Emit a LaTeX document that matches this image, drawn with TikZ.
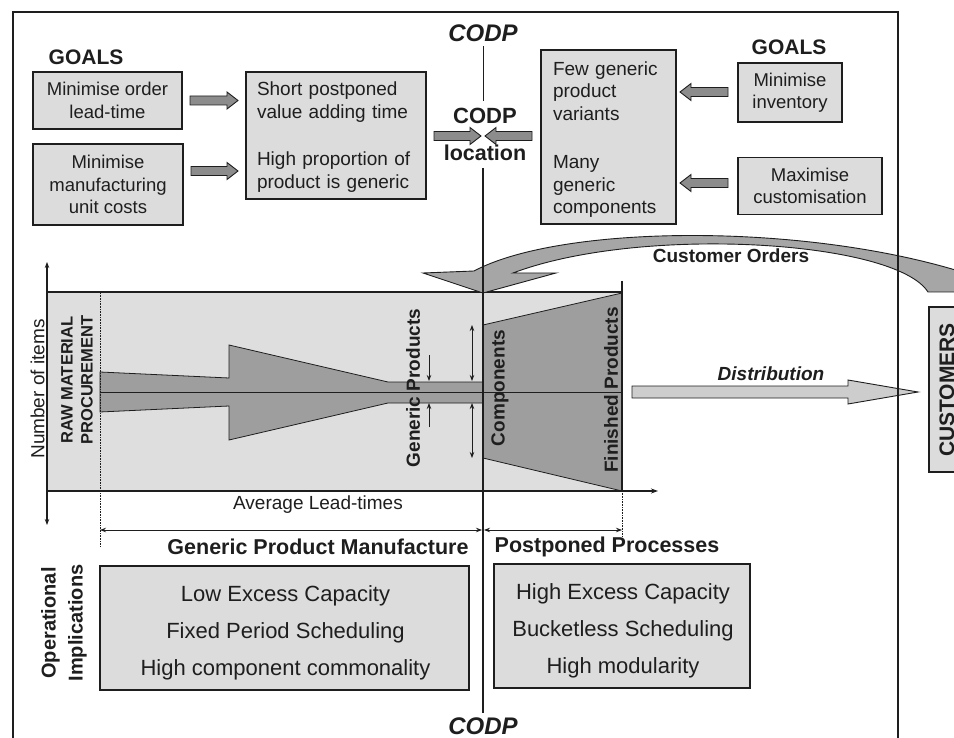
\documentclass[tikz,border=0pt]{standalone}
\usepackage{fontspec}
\setmainfont{Liberation Sans}
\usetikzlibrary{calc,arrows.meta}
\definecolor{ink}{HTML}{1E1E1E}
\definecolor{boxfill}{HTML}{DCDCDC}
\definecolor{zonefill}{HTML}{DEDEDE}
\definecolor{flowfill}{HTML}{9E9E9E}
\definecolor{pushfill}{HTML}{8C8C8C}
\definecolor{orderfill}{HTML}{A6A6A6}
\definecolor{shipfill}{HTML}{CDCDCD}
\newcommand\fs[2]{\fontsize{#1pt}{#2pt}\selectfont}
% horizontal block arrow: [style]{start}{end}{half shaft}{half head}{signed head length}
\newcommand\blockarrow[6][]{%
  \filldraw[pusharrow,#1] ($(#2)+(0,-#4)$) -- ($(#3)+({-(#6)},-#4)$) -- ($(#3)+({-(#6)},-#5)$) -- (#3)
    -- ($(#3)+({-(#6)},#5)$) -- ($(#3)+({-(#6)},#4)$) -- ($(#2)+(0,#4)$) -- cycle;}
\begin{document}
\begin{tikzpicture}[x=1pt,y=-1pt,
  every node/.style={inner sep=0pt,outer sep=0pt,text=ink},
  goalbox/.style={draw=ink,line width=1.3pt,fill=boxfill,align=center,font=\fs{18.5}{22.5}},
  panel/.style={draw=ink,line width=1.3pt,fill=boxfill},
  listtext/.style={align=left,font=\fs{19}{23}},
  optext/.style={align=center,font=\fs{22}{37}},
  heading/.style={font=\bfseries\fs{21}{24}},
  codplabel/.style={font=\bfseries\itshape\fs{24}{28}},
  vlabel/.style={rotate=90,font=\bfseries\fs{19}{22}},
  pusharrow/.style={fill=pushfill,draw=ink,line width=0.9pt},
  axis/.style={draw=ink,line width=1.1pt},
  tipend/.style={-{Stealth[length=7pt,width=5pt]}},
  tipboth/.style={{Stealth[length=6pt,width=4.5pt]}-{Stealth[length=6pt,width=4.5pt]}},
  thinline/.style={draw=ink,line width=0.9pt},
]
\useasboundingbox (0,0) rectangle (954,738);

% ---------- goals and design levers ----------
\node[heading] (goalsL) at (86,57) {GOALS};
\node[goalbox,minimum width=149pt,minimum height=57pt] (leadtime) at (107.5,100.5) {Minimise order\\lead-time};
\node[goalbox,minimum width=150pt,minimum height=81pt] (unitcost) at (108,184.5) {Minimise\\manufacturing\\unit costs};
\node[panel,minimum width=180pt,minimum height=127pt] (postpone) at (336,135.5) {};
\node[listtext,text width=158pt] (postponex) at (336,137.5)
  {Short postponed\\value adding time\\[24pt]High proportion of\\product is generic};
\node[panel,minimum width=135pt,minimum height=174pt] (generic) at (608.5,137) {};
\node[listtext,text width=111pt,font=\fs{19}{22.5}] (genericx) at (608.5,139.5)
  {Few generic\\product\\variants\\[26pt]Many\\generic\\components};
\node[heading] (goalsR) at (789,47) {GOALS};
\node[goalbox,minimum width=104pt,minimum height=59pt] (inventory) at (790,92.5) {Minimise\\inventory};
\node[goalbox,minimum width=144pt,minimum height=57pt] (customise) at (810,186) {Maximise\\customisation};

% ---------- CODP labels ----------
\node[codplabel] (codptop) at (483,33) {CODP};
\node[font=\bfseries\fs{22}{24}] (codpmid) at (485,116) {CODP};
\node[font=\bfseries\fs{21.5}{24}] (codploc) at (485,153) {location};
\node[codplabel] (codpbot) at (483,726) {CODP};

% ---------- push arrows ----------
\coordinate (a1s) at ($(leadtime.east)+(8,0)$);
\coordinate (a1e) at ($(postpone.west|-a1s)+(-8,0)$);
\coordinate (a2s) at (191,171);
\coordinate (a2e) at ($(postpone.west|-a2s)+(-8,0)$);
\coordinate (a3s) at ($(postpone.east|-0,136)+(8,0)$);
\coordinate (a3e) at (481,136);
\coordinate (a4s) at ($(generic.west|-0,136)+(-9,0)$);
\coordinate (a4e) at (485,136);
\coordinate (a5s) at ($(inventory.west|-0,92)+(-10,0)$);
\coordinate (a5e) at ($(generic.east|-0,92)+(4,0)$);
\coordinate (a6s) at ($(customise.west|-0,183)+(-10,0)$);
\coordinate (a6e) at ($(generic.east|-0,183)+(4,0)$);
\blockarrow{a1s}{a1e}{4.5}{8.5}{11}
\blockarrow{a2s}{a2e}{4.5}{8.5}{11}
\blockarrow{a3s}{a3e}{4.5}{8.5}{11}
\blockarrow{a4s}{a4e}{4.5}{8.5}{-11}
\blockarrow{a5s}{a5e}{4.5}{8.5}{-11}
\blockarrow{a6s}{a6e}{4.5}{8.5}{-11}

% ---------- lead-time chart ----------
\fill[zonefill] (47,292) rectangle (622,491);
\filldraw[fill=flowfill,draw=ink,line width=0.8pt] (100,372) -- (229,378) -- (229,345) -- (388,382) -- (483,382)
  -- (483,403) -- (388,403) -- (229,440) -- (229,406) -- (100,412) -- cycle;
\filldraw[fill=flowfill,draw=ink,line width=0.8pt] (483,325) -- (622,293) -- (622,491) -- (483,458) -- cycle;
\draw[thinline] (100,392) -- (622,392);
\draw[axis] (47,292) -- (622,292);
\draw[axis] (622,281) -- (622,491);
\draw[ink,line width=0.6pt,densely dotted] (100,293) -- (100,546);
\draw[ink,line width=0.6pt,densely dotted] (622,491) -- (622,537);
\draw[axis,tipboth] (47,262) -- (47,525);
\draw[axis,tipend] (47,491) -- (658,491);
\draw[thinline,-{Stealth[length=6pt,width=4.5pt]}] (429,355) -- (429,381);
\draw[thinline,-{Stealth[length=6pt,width=4.5pt]}] (429,427) -- (429,403);
\draw[thinline,tipboth] (472,325) -- (472,381);
\draw[thinline,tipboth] (472,403) -- (472,458);
\draw[thinline,tipboth] (100,530) -- (482,530);
\draw[thinline,tipboth] (484,530) -- (622,530);

\node[vlabel,font=\fs{19}{22}] (nitems) at (37.5,389) {Number of items};
\node[vlabel,align=center,font=\bfseries\fs{16.5}{20}] (rawmat) at (77,380) {RAW MATERIAL\\PROCUREMENT};
\node[vlabel] (genprod) at (413,388) {Generic Products};
\node[vlabel] (compon) at (500,388) {Components};
\node[vlabel] (finprod) at (611,390) {Finished Products};
\node[font=\fs{19}{22}] (avglead) at (318,505) {Average Lead-times};

% ---------- customer orders and distribution ----------
\filldraw[fill=orderfill,draw=ink,line width=0.9pt] (423,273) -- (474,271)
  .. controls (560,225) and (800,222) .. (962,272) -- (962,292) -- (928,292)
  .. controls (895,240) and (640,225) .. (513,273) -- (556,273) -- (483,293) -- cycle;
\node[font=\bfseries\fs{19}{22}] (custord) at (731,256) {Customer Orders};
\node[draw=ink,line width=1.3pt,fill=boxfill,minimum width=50pt,minimum height=165pt] (customers) at (954,389.5) {};
\node[vlabel,font=\bfseries\fs{21}{24}] (custtext) at (947,390) {CUSTOMERS};
\coordinate (ds) at (632,392);
\coordinate (de) at ($(customers.west|-ds)+(-11,0)$);
\blockarrow[fill=shipfill]{ds}{de}{6}{12}{70}
\node[font=\bfseries\itshape\fs{19}{22}] (distrib) at (771,374) {Distribution};

% ---------- CODP line ----------
\draw[ink,line width=1pt,shorten <=5pt,shorten >=7pt] (codptop.south) -- (codptop.south|-codpmid.north);
\draw[ink,line width=1.6pt,shorten <=7pt,shorten >=5pt] (codptop.south|-codploc.south) -- (codptop.south|-codpbot.north);

% ---------- operational implications ----------
\node[font=\bfseries\fs{21.5}{24}] (gpm) at (318,547) {Generic Product Manufacture};
\node[font=\bfseries\fs{21.5}{24}] (ppr) at (607,547) {Postponed Processes};
\node[vlabel,align=center,font=\bfseries\fs{20}{27}] (opimp) at (64,623) {Operational\\Implications};
\node[panel,minimum width=369pt,minimum height=124pt] (opleft) at (284.5,628) {};
\node[panel,minimum width=256pt,minimum height=124pt] (opright) at (622,626) {};
\node[optext] (opleftx) at ($(opleft)+(1,5)$)
  {Low Excess Capacity\\Fixed Period Scheduling\\High component commonality};
\node[optext] (oprightx) at ($(opright)+(1,5)$)
  {High Excess Capacity\\Bucketless Scheduling\\High modularity};

% ---------- outer frame ----------
\draw[ink,line width=1.3pt] (13,12) rectangle (898,760);
\end{tikzpicture}
\end{document}
